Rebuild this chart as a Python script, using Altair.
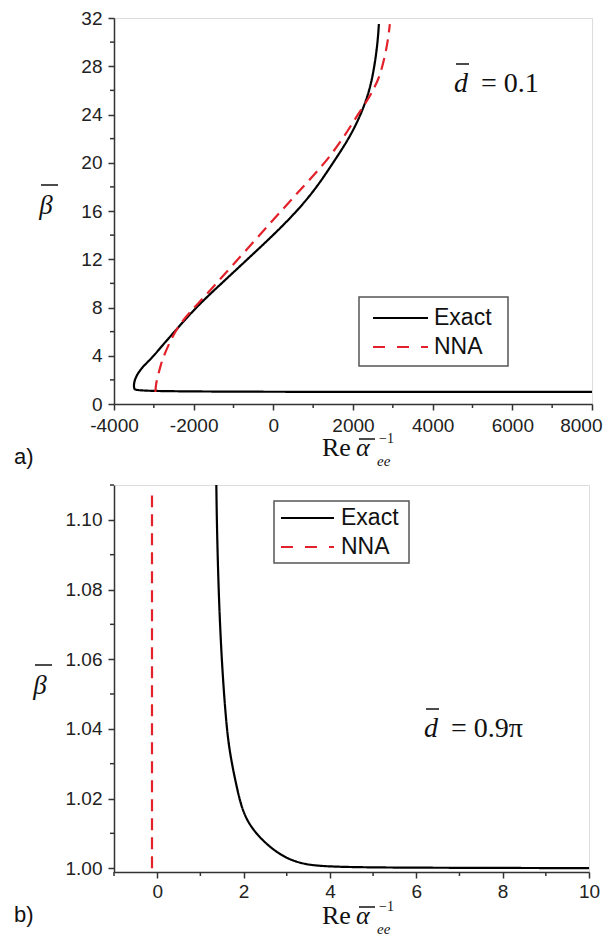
import altair as alt
import pandas as pd

# ---------------- data ----------------
series_names = ["Exact", "NNA"]

# panel a)  (d = 0.1)
a_exact_x = [8000, -3400, -3505, -3500, -3430, -3300, -3150, -3000, -2750, -2450, -1950,
             -1300, -650, 0, 600, 1100, 1500, 1900, 2200, 2420, 2540, 2620, 2650]
a_exact_y = [1.0, 1.0, 1.2, 1.8, 2.4, 3.0, 3.5, 4.0, 5.0, 6.1, 8.0,
             10.0, 12.0, 14.0, 16.0, 18.0, 20.0, 22.0, 24.0, 26.0, 28.0, 30.0, 31.5]
a_nna_x = [-2960, -2950, -2900, -2830, -2750, -2525, -2300, -2100, -1950, -1500, -1050,
           -400, 250, 800, 1300, 1750, 2100, 2350, 2550, 2675, 2800, 2880, 2925]
a_nna_y = [1.0, 1.6, 2.3, 3.2, 4.0, 5.7, 6.8, 7.6, 8.1, 9.75, 11.4,
           13.8, 16.2, 18.2, 20.0, 22.0, 23.9, 25.1, 26.3, 27.2, 28.8, 30.2, 31.5]

# panel b)  (d = 0.9 pi)
b_exact_x = [1.37, 1.38, 1.42, 1.49, 1.60, 1.69, 1.85, 2.0, 2.3, 2.8, 3.3, 4.0, 7.2, 10.0]
b_exact_y = [1.11, 1.10, 1.08, 1.06, 1.041, 1.0324, 1.0227, 1.0152, 1.0095, 1.004,
             1.0012, 1.0002, 1.0001, 1.0]
b_nna_x = [-0.12, -0.12]
b_nna_y = [1.0, 1.107]

# axis ticks
a_x_major = [-4000, -2000, 0, 2000, 4000, 6000, 8000]
a_x_minor = [-3000, -1000, 1000, 3000, 5000, 7000]
a_y_major = [0, 4, 8, 12, 16, 20, 24, 28, 32]
a_y_minor = [2, 6, 10, 14, 18, 22, 26, 30]
b_x_major = [0, 2, 4, 6, 8, 10]
b_x_minor = [-1, 1, 3, 5, 7, 9]
b_y_major = [1.00, 1.02, 1.04, 1.06, 1.08, 1.10]
b_y_minor = [1.01, 1.03, 1.05, 1.07, 1.09, 1.11]

RED = "#e3212b"
AXC = "#333333"
SERIF = "Liberation Serif"
SANS = "Liberation Sans"


def make_df(xs_e, ys_e, xs_n, ys_n):
    rows = []
    for i, (x, y) in enumerate(zip(xs_e, ys_e)):
        rows.append({"x": x, "y": y, "series": "Exact", "i": i})
    for i, (x, y) in enumerate(zip(xs_n, ys_n)):
        rows.append({"x": x, "y": y, "series": "NNA", "i": i})
    return pd.DataFrame(rows)


def one():
    return pd.DataFrame({"k": [0]})


def text(t, x, y, size, font=SERIF, style="normal", align="left", baseline="alphabetic"):
    return alt.Chart(one()).mark_text(
        text=t, align=align, baseline=baseline, font=font, fontSize=size,
        fontStyle=style, color="#111"
    ).encode(x=alt.value(x), y=alt.value(y))


def hline(x1, x2, y, color="#111", width=1.5, dash=None):
    kw = dict(color=color, strokeWidth=width)
    if dash is not None:
        kw["strokeDash"] = dash
    return alt.Chart(one()).mark_rule(**kw).encode(
        x=alt.value(x1), x2=alt.value(x2), y=alt.value(y))


def panel(df, xdom, ydom, w, h, xmaj, xmin, ymaj, ymin, xlabel_expr, yfmt, last_x,
          legend_box, legend_y, legend_line_x, legend_text_x,
          d_pos, d_rest, letter, letter_y, beta_pos, title_y, xlab_pad=6):
    axis_common = dict(grid=False, domainColor=AXC, domainWidth=1.5, tickColor=AXC,
                       tickWidth=1.5, tickSize=6, labelFont=SANS, labelFontSize=19,
                       labelColor="#222", title=None,
                       labelFlush=False, labelOverlap=False)
    xs = alt.Scale(domain=xdom, nice=False, zero=False)
    ys = alt.Scale(domain=ydom, nice=False, zero=False)

    x_axis = alt.Axis(values=xmaj, labelExpr=xlabel_expr, labelPadding=xlab_pad,
                      labelAlign=alt.expr(f"datum.value == {last_x} ? 'right' : 'center'"),
                      labelOffset=alt.expr(f"datum.value == {last_x} ? 10 : 0"),
                      **axis_common)
    y_axis = alt.Axis(values=ymaj, format=yfmt, labelPadding=6, **axis_common)
    lines = alt.Chart(df).mark_line(strokeWidth=2.2, clip=True, interpolate="basis").encode(
        x=alt.X("x:Q", scale=xs, axis=x_axis),
        y=alt.Y("y:Q", scale=ys, axis=y_axis),
        color=alt.Color("series:N", scale=alt.Scale(domain=series_names, range=["#000000", RED]),
                        legend=None),
        strokeDash=alt.StrokeDash("series:N",
                                  scale=alt.Scale(domain=series_names, range=[[1, 0], [12, 7]]),
                                  legend=None),
        order="i:Q",
    )
    xminor = alt.Chart(pd.DataFrame({"x": xmin})).mark_rule(color=AXC, strokeWidth=1.5).encode(
        x=alt.X("x:Q", scale=xs), y=alt.value(h), y2=alt.value(h + 4))
    yminor = alt.Chart(pd.DataFrame({"y": ymin})).mark_rule(color=AXC, strokeWidth=1.5).encode(
        y=alt.Y("y:Q", scale=ys), x=alt.value(0), x2=alt.value(-4))

    bx1, bx2, by1, by2 = legend_box
    box = alt.Chart(one()).mark_rect(fill="white", stroke="#555", strokeWidth=1.5).encode(
        x=alt.value(bx1), x2=alt.value(bx2), y=alt.value(by1), y2=alt.value(by2))
    lx1, lx2 = legend_line_x
    leg = [
        box,
        hline(lx1, lx2, legend_y[0], color="#000", width=2.2),
        hline(lx1, lx2, legend_y[1], color=RED, width=2.2, dash=[12, 12]),
        text("Exact", legend_text_x, legend_y[0], 23, font=SANS, baseline="middle"),
        text("NNA", legend_text_x, legend_y[1], 23, font=SANS, baseline="middle"),
    ]

    dx, dy = d_pos
    ann = [
        text("d", dx, dy, 28, style="italic"),
        hline(dx + 2, dx + 15, dy - 28, width=1.5),
        text(d_rest, dx + 27, dy, 28),
    ]

    bxc, bby = beta_pos
    beta = [
        text("β", bxc, bby, 27, style="italic", align="center"),
        hline(bxc - 5, bxc + 12, bby - 29, width=1.5),
    ]

    ty = title_y
    xt = [
        text("Re", 208, ty, 26),
        text("α", 242, ty, 26, style="italic"),
        hline(245, 261, ty - 17, width=1.5),
        text("−1", 265, ty - 13, 14),
        text("ee", 263, ty + 10, 15, style="italic"),
    ]

    lab = [text(letter, -100, letter_y, 22, font=SANS)]

    return alt.layer(lines, xminor, yminor, *leg, *ann, *beta, *xt, *lab).properties(
        width=w, height=h)


df_a = make_df(a_exact_x, a_exact_y, a_nna_x, a_nna_y)
df_b = make_df(b_exact_x, b_exact_y, b_nna_x, b_nna_y)

neg_expr = "(datum.value < 0 ? '-' : '') + format(abs(datum.value), 'd')"

top = panel(df_a, [-4000, 8000], [0, 32], 478, 386, a_x_major, a_x_minor, a_y_major, a_y_minor,
            neg_expr, "d", 8000,
            legend_box=(245, 394, 279, 348), legend_y=(300, 329), legend_line_x=(259, 314),
            legend_text_x=320, d_pos=(340, 74), d_rest="= 0.1", letter="a)", letter_y=446,
            beta_pos=(-68, 196), title_y=438)

bottom = panel(df_b, [-1, 10], [0.9989, 1.11], 475, 387, b_x_major, b_x_minor, b_y_major, b_y_minor,
               neg_expr, ".2f", 99999,
               legend_box=(160, 295, 16, 78), legend_y=(33, 62), legend_line_x=(167, 220),
               legend_text_x=227, d_pos=(310, 252), d_rest="= 0.9π", letter="b)", letter_y=437,
               beta_pos=(-74, 209), title_y=439, xlab_pad=4)

PAD = {"left": 5, "top": 0, "right": 0, "bottom": 5}
chart = alt.vconcat(top, bottom, spacing=13, padding=PAD).configure_view(
    stroke=None).configure_axis(grid=False).configure(padding=PAD)

chart.save("out.html", embed_options={"renderer": "svg", "actions": False})
